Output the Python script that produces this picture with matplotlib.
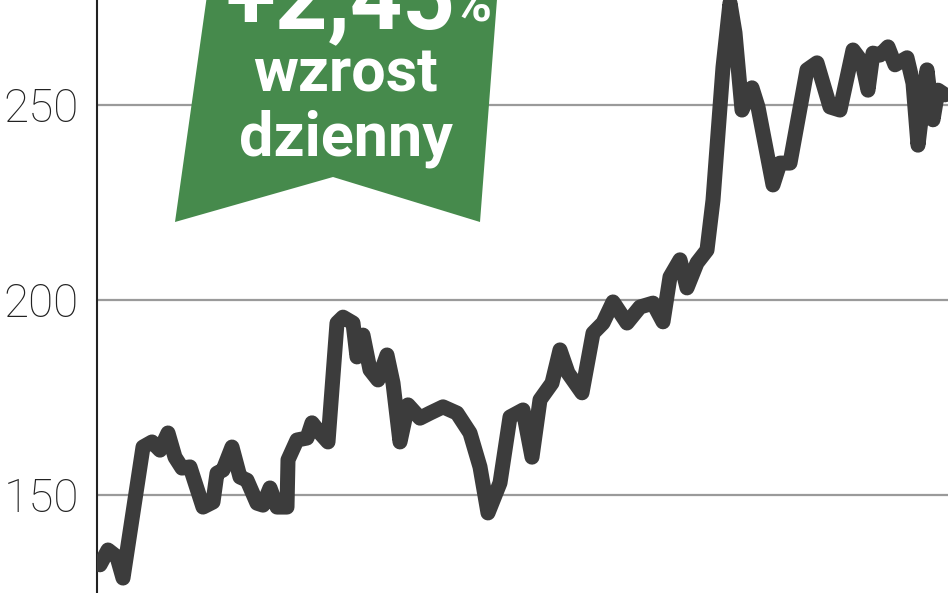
import matplotlib
matplotlib.use("Agg")
import matplotlib.pyplot as plt
from matplotlib.patches import Polygon

# trading-session positions (arbitrary units) and closing values
sesje = [3, 11, 20, 26, 46, 55, 63, 71, 78, 85, 93, 106, 116, 120, 126, 135, 143, 150,
         160, 166, 173, 180, 190, 191, 200, 210, 215, 223, 231, 240, 246, 256, 260, 266,
         273, 281, 290, 296, 303, 311, 323, 333, 346, 360, 373, 383, 391, 403, 413, 426,
         435, 443, 455, 463, 471, 485, 496, 506, 516, 530, 543, 556, 566, 573, 583, 590,
         600, 610, 616, 626, 633, 638, 645, 655, 661, 676, 683, 693, 710, 720, 733, 743,
         756, 765, 771, 776, 783, 791, 798, 810, 816, 821, 830, 836, 841, 848]
kurs = [132.1, 135.9, 134.1, 128.7, 162.3, 163.6, 161.5, 165.9, 159.7, 156.9, 157.2,
        146.9, 148.2, 155.6, 156.4, 162.3, 154.6, 153.8, 147.9, 147.4, 151.8, 146.9,
        146.9, 159.0, 164.1, 164.6, 168.5, 165.9, 163.6, 194.1, 195.6, 194.1, 185.4,
        191.0, 182.1, 179.5, 185.9, 178.7, 163.6, 173.1, 169.7, 171.0, 172.6, 171.0,
        165.9, 157.2, 145.4, 153.1, 170.0, 171.8, 159.7, 174.4, 178.7, 187.2, 181.3,
        176.2, 191.5, 194.1, 199.5, 194.1, 198.2, 199.2, 194.4, 205.9, 210.3, 203.1,
        209.5, 212.8, 225.6, 259.7, 276.2, 268.5, 248.7, 254.4, 249.5, 229.5, 235.1,
        235.1, 259.0, 260.8, 249.5, 248.7, 264.1, 261.0, 253.8, 263.3, 262.8, 264.9,
        260.3, 262.1, 255.6, 239.7, 259.0, 246.2, 253.8, 252.6]
y_ticks = [150, 200, 250]
y_labels = ["150", "200", "250"]
banner_big = "+2,45"
banner_pct = "%"
banner_lines = ["wzrost", "dzienny"]

W, H = 948, 593
fig = plt.figure(figsize=(W / 100, H / 100), dpi=100)
ax = fig.add_axes([97 / W, 0, 1 - 97 / W, 1])
ax.set_xlim(0, 851)
ax.set_ylim(124.87, 276.92)

for t in y_ticks:
    ax.axhline(t, color="#9a9a9a", lw=1.6, zorder=1)

ax.plot(sesje, kurs, color="#3c3c3c", lw=10.8, solid_capstyle="round",
        solid_joinstyle="round", zorder=3)

for s in ["top", "right", "bottom"]:
    ax.spines[s].set_visible(False)
ax.spines["left"].set_color("#222222")
ax.spines["left"].set_linewidth(1.5)
ax.set_xticks([])
ax.set_yticks(y_ticks)
ax.set_yticklabels(y_labels, fontfamily="Roboto", fontweight="light",
                   fontsize=33, color="#222222")
ax.tick_params(axis="y", length=0, pad=13)

# banner in figure pixel coordinates (top-left origin converted)
def fp(x, y):
    return (x / W, 1 - y / H)

pts = [fp(212, -40), fp(500, -40), fp(480, 222), fp(333, 177), fp(175, 222)]
fig.patches.append(Polygon(pts, closed=True, transform=fig.transFigure,
                           facecolor="#468a4c", edgecolor="none", zorder=5))

fig.text(*fp(340, 28), banner_big, fontfamily="Roboto", fontweight="bold",
         fontsize=66, color="white", ha="center", va="baseline", zorder=6)
fig.text(*fp(472, 22), banner_pct, fontfamily="Roboto", fontweight="bold",
         fontsize=38, color="white", ha="center", va="baseline", zorder=6)
fig.text(*fp(346, 92), banner_lines[0], fontfamily="Roboto", fontweight="bold",
         fontsize=44, color="white", ha="center", va="baseline", zorder=6)
fig.text(*fp(346, 155), banner_lines[1], fontfamily="Roboto", fontweight="bold",
         fontsize=44, color="white", ha="center", va="baseline", zorder=6)

fig.savefig("out.png", dpi=100)
